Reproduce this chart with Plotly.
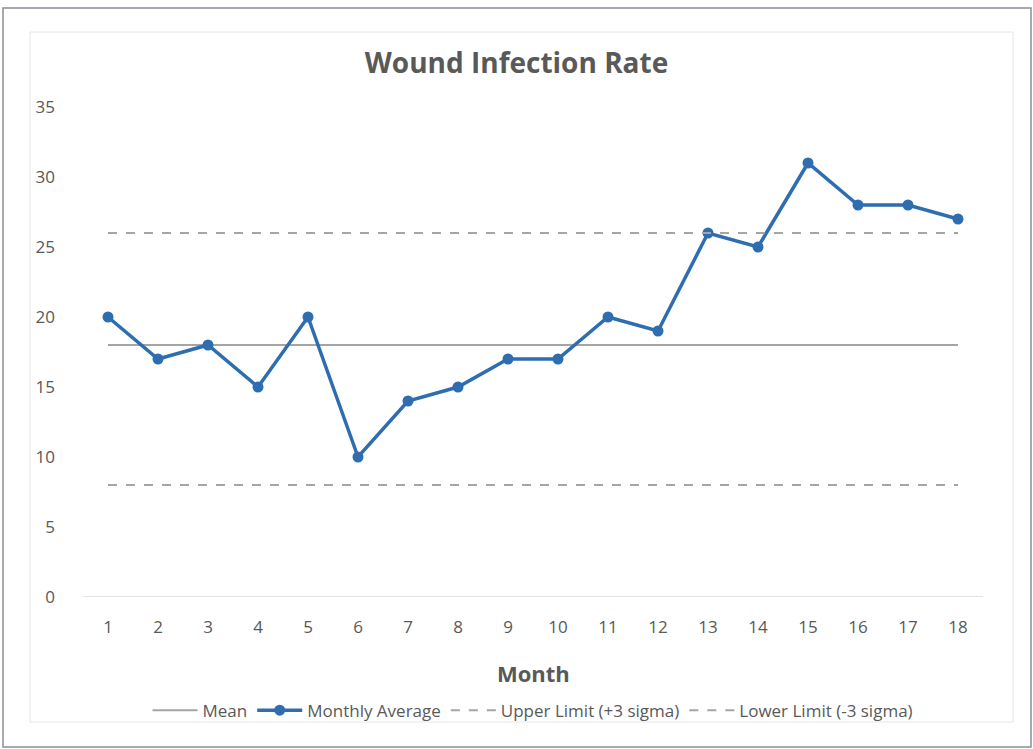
import plotly.graph_objects as go

months = list(range(1, 19))
monthly_avg = [20, 17, 18, 15, 20, 10, 14, 15, 17, 17, 20, 19, 26, 25, 31, 28, 28, 27]
mean_vals = [18] * 18
upper_vals = [26] * 18
lower_vals = [8] * 18
y_ticks = [0, 5, 10, 15, 20, 25, 30, 35]

FONT = "Open Sans"
fig = go.Figure()
fig.add_trace(go.Scatter(x=months, y=mean_vals, mode="lines", name="Mean",
                         line=dict(color="#a5a5a5", width=2)))
fig.add_trace(go.Scatter(x=months, y=monthly_avg, mode="lines+markers", name="Monthly Average",
                         line=dict(color="#2e6db0", width=3.5),
                         marker=dict(color="#2e6db0", size=11)))
fig.add_trace(go.Scatter(x=months, y=upper_vals, mode="lines", name="Upper Limit (+3 sigma)",
                         line=dict(color="#a5a5a5", width=2, dash="dash")))
fig.add_trace(go.Scatter(x=months, y=lower_vals, mode="lines", name="Lower Limit (-3 sigma)",
                         line=dict(color="#a5a5a5", width=2, dash="dash")))

fig.update_layout(
    width=1033, height=749,
    margin=dict(l=83, r=50, t=107, b=152),
    paper_bgcolor="white", plot_bgcolor="white",
    font=dict(family=FONT, color="#595959", size=14),
    title=dict(text="<b>Wound Infection Rate</b>", x=0.5, xanchor="center",
               y=1 - 63 / 749, yanchor="middle",
               font=dict(size=28, color="#595959", family=FONT)),
    showlegend=True,
    legend=dict(orientation="h", x=0.5, xanchor="center", y=-0.232, yanchor="middle",
                itemwidth=45, entrywidth=0,
                font=dict(size=17, color="#595959"), bgcolor="rgba(0,0,0,0)"),
    shapes=[
        dict(type="rect", xref="paper", yref="paper",
             x0=(3 - 83) / 900, x1=(1031 - 83) / 900,
             y0=(597 - 747) / 490, y1=(597 - 8) / 490,
             line=dict(color="#8a8f99", width=1.5), layer="below"),
        dict(type="rect", xref="paper", yref="paper",
             x0=(30 - 83) / 900, x1=(1013 - 83) / 900,
             y0=(597 - 722) / 490, y1=(597 - 32) / 490,
             line=dict(color="#e6e6e6", width=1), layer="below"),
    ],
    annotations=[
        dict(text="<b>Month</b>", xref="paper", yref="paper", x=0.5, y=(597 - 673) / 490,
             xanchor="center", yanchor="middle", showarrow=False,
             font=dict(size=22, color="#595959", family=FONT)),
    ],
)
fig.update_xaxes(range=[0.5, 18.5], tickvals=months, ticktext=[str(m) for m in months],
                 showgrid=False, zeroline=False, showline=False,
                 ticks="", ticklabelstandoff=18, tickfont=dict(size=17))
fig.update_yaxes(range=[0, 35], tickvals=y_ticks, showgrid=False, zeroline=False,
                 showline=False, ticks="", ticklabelstandoff=27, tickfont=dict(size=17))
fig.add_hline(y=0, line=dict(color="#d9d9d9", width=1.5), layer="below")

fig.write_html("out.html", config={"displayModeBar": False},
               post_script="document.body.style.margin='0';")
